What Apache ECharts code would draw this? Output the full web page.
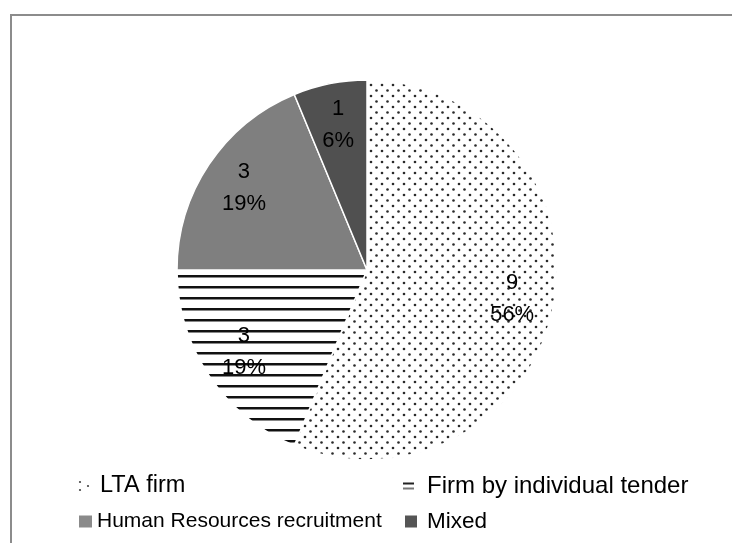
<!DOCTYPE html>
<html>
<head>
<meta charset="utf-8">
<script src="https://cdn.jsdelivr.net/npm/echarts@6/dist/echarts.min.js"></script>
<style>
html,body{margin:0;padding:0;background:#fff;}
#chart{width:732px;height:543px;}
</style>
</head>
<body>
<div id="chart"></div>
<script>
// ---- data ----
const categories = ["LTA firm", "Firm by individual tender", "Human Resources recruitment", "Mixed"];
const values = [9, 3, 3, 1];

// ---- fills ----
function dotPattern() {
  const c = document.createElement('canvas');
  c.width = 11; c.height = 11;
  const g = c.getContext('2d');
  g.fillStyle = '#fff'; g.fillRect(0, 0, 11, 11);
  g.fillStyle = '#2a2a2a';
  g.beginPath(); g.arc(2.5, 2.5, 1.3, 0, Math.PI * 2); g.fill();
  g.beginPath(); g.arc(8, 8, 1.3, 0, Math.PI * 2); g.fill();
  return c;
}
function stripePattern() {
  const c = document.createElement('canvas');
  c.width = 10; c.height = 11;
  const g = c.getContext('2d');
  g.fillStyle = '#fff'; g.fillRect(0, 0, 10, 11);
  g.fillStyle = '#111'; g.fillRect(0, 0, 10, 2);
  g.fillStyle = '#888'; g.fillRect(0, 2, 10, 1);
  return c;
}
function dotIcon() {
  const c = document.createElement('canvas');
  c.width = 14; c.height = 12;
  const g = c.getContext('2d');
  g.fillStyle = '#fff'; g.fillRect(0, 0, 14, 12);
  g.fillStyle = '#444';
  g.beginPath(); g.arc(2, 2, 1.1, 0, Math.PI * 2); g.fill();
  g.beginPath(); g.arc(2, 10, 1.1, 0, Math.PI * 2); g.fill();
  g.beginPath(); g.arc(10, 6, 1.1, 0, Math.PI * 2); g.fill();
  return 'image://' + c.toDataURL();
}
function stripeIcon() {
  const c = document.createElement('canvas');
  c.width = 11; c.height = 9;
  const g = c.getContext('2d');
  g.fillStyle = '#fff'; g.fillRect(0, 0, 11, 9);
  g.fillStyle = '#222'; g.fillRect(0, 1, 11, 2);
  g.fillStyle = '#777'; g.fillRect(0, 6, 11, 2);
  return 'image://' + c.toDataURL();
}
const fills = [
  { image: dotPattern(), repeat: 'repeat' },
  { image: stripePattern(), repeat: 'repeat' },
  '#7f7f7f',
  '#505050'
];

const FONT = 'Liberation Sans, Arial, sans-serif';
const chart = echarts.init(document.getElementById('chart'));

const pieData = categories.map((n, i) => ({ name: n, value: values[i], itemStyle: { color: fills[i] } }));
const labelData = categories.map((n, i) => ({ name: n, value: values[i] }));

function legend(name, left, top, icon, color, w, h, pad, fs) {
  return {
    data: [{ name: name, icon: icon, itemStyle: { color: color, borderWidth: 0 } }],
    left: left, top: top, orient: 'horizontal', padding: 0,
    itemWidth: w, itemHeight: h, selectedMode: false,
    itemStyle: { borderWidth: 0 },
    textStyle: { padding: [0, 0, 0, pad], color: '#000', fontSize: fs, fontFamily: FONT }
  };
}

chart.setOption({
  animation: false,
  backgroundColor: '#fff',
  graphic: [{
    type: 'rect', silent: true,
    shape: { x: 11, y: 15, width: 760, height: 560 },
    style: { fill: 'none', stroke: '#8c8c8c', lineWidth: 2 }
  }],
  legend: [
    legend(categories[0], 78, 474, dotIcon(), '#555', 14, 12, 3, 23.5),
    legend(categories[1], 403, 474, stripeIcon(), '#333', 11, 9, 8, 24),
    legend(categories[2], 79, 511, 'rect', '#8a8a8a', 13, 12, 0, 21),
    legend(categories[3], 405, 510, 'rect', '#555', 12, 12, 5, 22.5)
  ],
  series: [
    {
      type: 'pie',
      center: [367, 270],
      radius: [0, 190],
      startAngle: 90,
      clockwise: true,
      silent: true,
      label: { show: false },
      labelLine: { show: false },
      itemStyle: { borderColor: '#fff', borderWidth: 1.5 },
      emphasis: { disabled: true },
      data: pieData
    },
    {
      type: 'pie',
      center: [367, 270],
      radius: [100, 190],
      startAngle: 90,
      clockwise: true,
      silent: true,
      percentPrecision: 0,
      itemStyle: { color: 'rgba(0,0,0,0)' },
      label: {
        show: true, position: 'inside',
        formatter: '{c}\n{d}%',
        color: '#000', fontSize: 22, fontFamily: FONT, lineHeight: 32
      },
      labelLine: { show: false },
      emphasis: { disabled: true },
      data: labelData
    }
  ]
});
</script>
</body>
</html>
